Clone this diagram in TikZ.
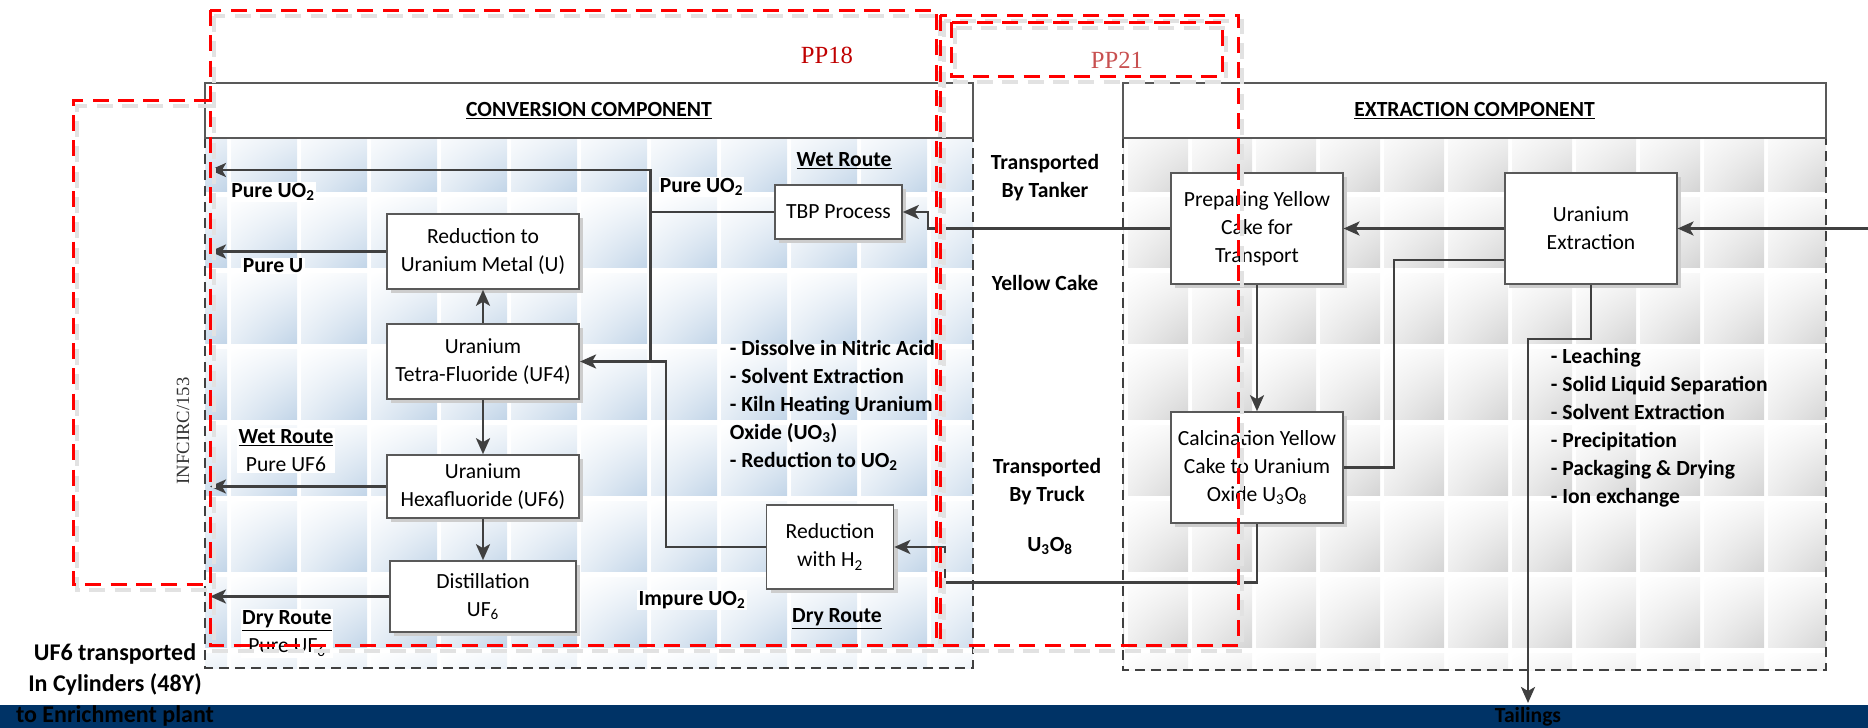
\documentclass[tikz,border=0pt]{standalone}
\usepackage{fontspec}
\setmainfont{Carlito}
\newfontfamily\ppfont{Liberation Serif}
\usetikzlibrary{arrows.meta,shadows,shadings,calc}

\definecolor{tileblue}{RGB}{194,213,232}
\definecolor{tilegray}{RGB}{212,212,212}

\tikzset{every picture/.style={line width=0.75pt}}
\tikzset{
  txt/.style={font=\fontsize{16.2}{21}\selectfont, inner sep=1pt},
  lbl/.style={txt, font=\fontsize{16.2}{21}\selectfont\bfseries},
  procbox/.style={txt, draw={rgb, 255:red, 89; green, 89; blue, 89}, line width=1.2, fill=white, align=center, inner sep=2pt, drop shadow={shadow xshift=3pt, shadow yshift=-3pt, fill={rgb, 255:red, 205; green, 205; blue, 205}, opacity=1}},
  headbox/.style={txt, draw={rgb, 255:red, 89; green, 89; blue, 89}, line width=1.2, fill=white, font=\fontsize{16.2}{21}\selectfont\bfseries},
  body/.style={draw={rgb, 255:red, 64; green, 64; blue, 64}, line width=1.1, dash pattern=on 7.5pt off 4.5pt},
  conn/.style={draw={rgb, 255:red, 64; green, 64; blue, 64}, line width=2, -{Stealth[length=12pt,width=10.5pt,inset=3pt]}},
  link/.style={draw={rgb, 255:red, 64; green, 64; blue, 64}, line width=2},
  ppline/.style={draw={rgb, 255:red, 255; green, 0; blue, 0}, line width=2.25, dash pattern=on 12pt off 7pt},
  ppshade/.style={draw={rgb, 255:red, 226; green, 226; blue, 226}, line width=3.5, dash pattern=on 12pt off 7pt},
  pptext/.style={font=\ppfont\fontsize{18.5}{22}\selectfont, inner sep=0pt},
  % the picture is flipped (yscale=-1), so upper and lower swap here
  bluetile/.style={lower left=tileblue!40!white, upper left=white, lower right=tileblue, upper right=tileblue!18!white},
  graytile/.style={lower left=tilegray!40!white, upper left=white, lower right=tilegray, upper right=tilegray!18!white},
}

\begin{document}
\begin{tikzpicture}[x=0.75pt,y=0.75pt,yscale=-1,xscale=1]
\useasboundingbox (0,0) rectangle (1868,728);

%Shape: Rectangle [bottom bar]
\fill[fill={rgb, 255:red, 0; green, 51; blue, 102}] (0,705) rectangle (1868,728);

%Tiles: conversion component
\begin{scope}
\clip (205,138) rectangle (973,668);
\foreach \x in {157,227,...,927}
  \foreach \y in {121,197,...,653}
    \shade[bluetile] (\x+4,\y) rectangle ++(66,70);
\end{scope}
%Tiles: extraction component
\begin{scope}
\clip (1123,138) rectangle (1826,670);
\foreach \x in {1060,1124,...,1764}
  \foreach \y in {121,197,...,653}
    \shade[graytile] (\x+4,\y) rectangle ++(60,70);
\end{scope}

%Shape: Rectangle [component bodies]
\draw[body] (205,138) rectangle (973,668);
\draw[body] (1123,138) rectangle (1826,670);

%Shape: Rectangle [component headers]
\node[headbox, minimum width=576pt, minimum height=41.25pt] (convhead) at (589,110.5) {\underline{CONVERSION COMPONENT}};
\node[headbox, minimum width=527.25pt, minimum height=41.25pt] (exthead) at (1474.5,110.5) {\underline{EXTRACTION COMPONENT}};

%Shape: Rectangle [process boxes]
\node[procbox, minimum width=95.25pt, minimum height=40.5pt] (tbp) at (838.5,212) {TBP Process};
\node[procbox, minimum width=144.4pt, minimum height=56.25pt] (redmet) at (483,251.5) {Reduction to\\Uranium Metal (U)};
\node[procbox, minimum width=144.4pt, minimum height=56.25pt] (uf4) at (483,361.5) {Uranium\\Tetra-Fluoride (UF4)};
\node[procbox, minimum width=144.4pt, minimum height=47.25pt] (uf6) at (483,486.5) {Uranium\\Hexafluoride (UF6)};
\node[procbox, minimum width=139.5pt, minimum height=53.25pt] (dist) at (483,596.5) {Distillation\\UF\textsubscript{6}};
\node[procbox, minimum width=95.25pt, minimum height=63pt] (redh2) at (830,547) {Reduction\\with H\textsubscript{2}};
\node[procbox, minimum width=128.6pt, minimum height=83.25pt] (prep) at (1257,228.5) {Preparing Yellow\\Cake for\\Transport};
\node[procbox, minimum width=128.6pt, minimum height=83.25pt] (uext) at (1591,228.5) {Uranium\\Extraction};
\node[procbox, minimum width=128.6pt, minimum height=83.25pt] (calc) at (1257,467.5) {Calcination Yellow\\Cake to Uranium\\Oxide U\textsubscript{3}O\textsubscript{8}};

%Coordinates [connector ends and bends]
\coordinate (convleft) at (210,0);
\coordinate (uo2out) at (210,170);
\coordinate (jwet) at (650.5,212);
\coordinate (jdry) at (666,361.5);
\coordinate (jtbp) at (928,228.5);
\coordinate (jcalc) at (945,582.7);
\coordinate (jext) at (1394,260);
\coordinate (jtail) at (1528,339);
\coordinate (tailend) at (1528,703);
\coordinate (feed) at (1868,228.5);

%Straight Lines [conversion]
\draw[conn] (tbp.west) -- (jwet) |- (uo2out);
\draw[link] (jwet) -- (jwet |- jdry);
\draw[conn] (redh2.west) -| (jdry) -- (uf4.east);
\draw[conn] (redmet.west) -- (redmet.west -| convleft);
\draw[conn] (uf4.north) -- (redmet.south);
\draw[conn] (uf4.south) -- (uf6.north);
\draw[conn] (uf6.south) -- (dist.north);
\draw[conn] (uf6.west) -- (uf6.west -| convleft);
\draw[conn] (dist.west) -- (dist.west -| convleft);
%Straight Lines [extraction]
\draw[conn] (feed) -- (uext.east);
\draw[conn] (uext.west) -- (prep.east);
\draw[conn] (prep.west) -- (jtbp) |- (tbp.east);
\draw[conn] (prep.south) -- (calc.north);
\draw[link] (uext.west |- jext) -- (jext) |- (calc.east);
\draw[conn] (calc.south) |- (jcalc) |- (redh2.east);
\draw[conn] (uext.south) |- (jtail) -- (tailend);

% Text Node [conversion labels]
\node[lbl, fill=white] (lpureuo2) at (273,192) {Pure UO\textsubscript{2}};
\node[lbl, fill=white] (lpureu) at (273,266) {Pure U};
\node[lbl, fill=white, align=center] (lwetuf6) at (286,450.5) {\underline{Wet Route}\\\mdseries Pure UF6};
\node[lbl, fill=white, align=center] (ldryuf6) at (287,633.5) {\underline{Dry Route}\\\mdseries Pure UF\textsubscript{6}};
\node[lbl] (lwetr) at (844,161) {\underline{Wet Route}};
\node[lbl, fill=white] (ltbpuo2) at (701.5,187) {Pure UO\textsubscript{2}};
\node[lbl, fill=white] (limpure) at (692,600) {Impure UO\textsubscript{2}};
\node[lbl] (ldryr) at (837,619) {\underline{Dry Route}};
\node[lbl, align=left, anchor=west] (lconvsteps) at (728,405.5) {- Dissolve in Nitric Acid\\- Solvent Extraction\\- Kiln Heating Uranium\\Oxide (UO\textsubscript{3})\\- Reduction to UO\textsubscript{2}};
% Text Node [transport labels]
\node[lbl, align=center] (ltanker) at (1045,177.5) {Transported\\By Tanker};
\node[lbl] (lycake) at (1045,283) {Yellow Cake};
\node[lbl, align=center] (ltruck) at (1047,482) {Transported\\By Truck};
\node[lbl] (lu3o8) at (1050,546) {U\textsubscript{3}O\textsubscript{8}};
% Text Node [extraction labels]
\node[lbl, align=left, anchor=west] (lextsteps) at (1549,428) {- Leaching\\- Solid Liquid Separation\\- Solvent Extraction\\- Precipitation\\- Packaging \& Drying\\- Ion exchange};
\node[lbl] (ltail) at (1528,717) {Tailings};
\node[lbl, align=center, font=\fontsize{18}{23.25}\selectfont\bfseries] (lcyl) at (115,685) {UF6 transported\\In Cylinders (48Y)\\to Enrichment plant};
\node[rotate=90, text=black!80, font=\ppfont\fontsize{14}{16}\selectfont] (linfcirc) at (183,431) {INFCIRC/153};

%Shape: Rectangle [red safeguard frames, shadow]
\begin{scope}[shift={(4,6)}]
\draw[ppshade] (210,10) rectangle (936,645);
\draw[ppshade] (210,100) -- (73,100) -- (73,584) -- (210,584);
\draw[ppshade] (940,15) rectangle (1238,645);
\draw[ppshade] (951,22) rectangle (1222,76);
\end{scope}
%Shape: Rectangle [red safeguard frames]
\draw[ppline] (210,10) rectangle (936,645);
\draw[ppline] (210,100) -- (73,100) -- (73,584) -- (210,584);
\draw[ppline] (940,15) rectangle (1238,645);
\draw[ppline] (951,22) rectangle (1222,76);
\node[pptext, text={rgb, 255:red, 192; green, 0; blue, 0}] (lpp18) at (827,55) {PP18};
\node[pptext, text={rgb, 255:red, 200; green, 80; blue, 80}] (lpp21) at (1117,60) {PP21};

\end{tikzpicture}
\end{document}
